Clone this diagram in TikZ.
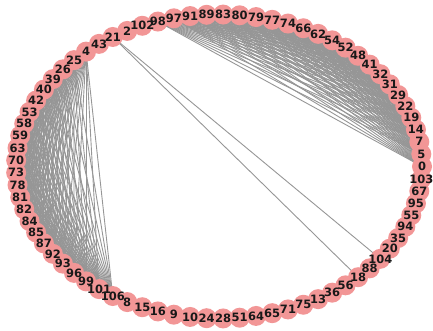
\documentclass[tikz,border=0pt]{standalone}
\usepackage{fontspec}
\setsansfont{DejaVu Sans}
\usetikzlibrary{backgrounds}
\definecolor{nodepink}{RGB}{242,150,150}
\definecolor{edgegray}{RGB}{150,150,150}
\def\ringlabels{0,5,7,14,19,22,29,31,32,41,48,52,54,62,66,74,77,79,80,83,89,91,97,98,102,2,21,43,4,25,26,39,40,42,53,58,59,63,70,73,78,81,82,84,85,87,92,93,96,99,101,106,8,15,16,9,10,24,28,51,64,65,71,75,13,36,56,18,88,104,20,35,94,55,95,67,103}

\begin{document}
\begin{tikzpicture}[x=1pt, y=1pt,
  vertex/.style={circle, fill=nodepink, inner sep=0pt, minimum size=20pt},
  vlabel/.style={inner sep=0pt, font=\sffamily\bfseries\fontsize{11.5}{13}\selectfont, text=black!90},
  link/.style={edgegray, line width=0.9pt}]
  \useasboundingbox (0,0) rectangle (433,331);

  % Ring of nodes, counterclockwise from the right
  \foreach \lab [count=\i from 0] in \ringlabels {
    \node[vertex, alias=v\i] (n\lab) at ({219+203*cos(4.67532*\i)}, {164.5+152*sin(4.67532*\i)}) {};
  }
  % Labels on top of all circles
  \foreach \lab in \ringlabels {
    \node[vlabel] (t\lab) at (n\lab) {\lab};
  }

  \begin{pgfonlayer}{background}
    % Upper right group (0 ... 98)
    \foreach \a in {0,...,22} {
      \pgfmathtruncatemacro{\s}{\a+1}
      \foreach \b in {\s,...,23} \draw[link] (v\a.center) -- (v\b.center);
    }
    % Left group (4 ... 106)
    \foreach \a in {28,...,50} {
      \pgfmathtruncatemacro{\s}{\a+1}
      \foreach \b in {\s,...,51} \draw[link] (v\a.center) -- (v\b.center);
    }
    % Long chords
    \draw[link] (n21.center) -- (n104.center);
    \draw[link] (n21.center) -- (n18.center);
  \end{pgfonlayer}
\end{tikzpicture}
\end{document}
